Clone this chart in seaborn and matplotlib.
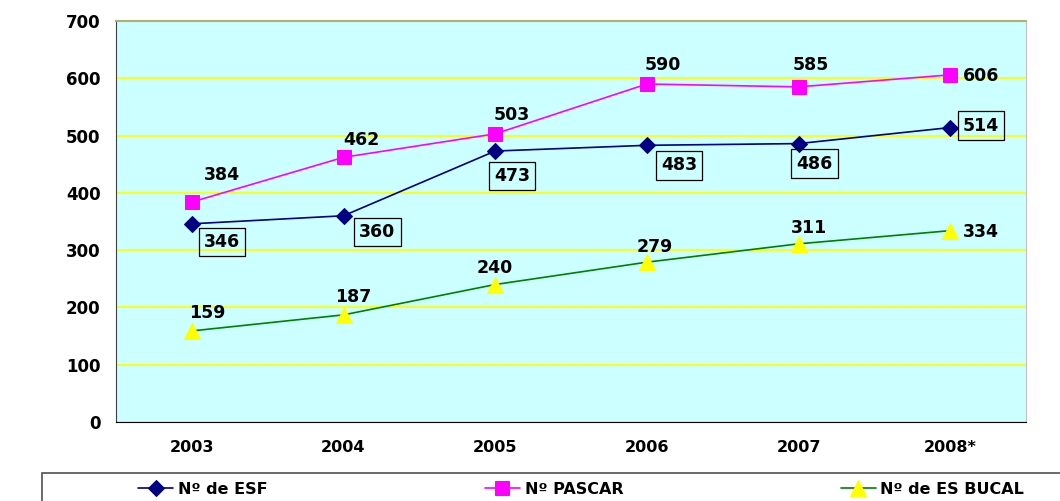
import numpy as np
import pandas as pd
import matplotlib
matplotlib.use('Agg')
import matplotlib.pyplot as plt
from matplotlib.patches import Rectangle
import seaborn as sns

years = ['2003', '2004', '2005', '2006', '2007', '2008*']
esf = [346, 360, 473, 483, 486, 514]
pascar = [384, 462, 503, 590, 585, 606]
bucal = [159, 187, 240, 279, 311, 334]
series_names = ['Nº de ESF', 'Nº PASCAR', 'Nº de ES BUCAL']

# label offsets (pixels) for each point
esf_off = [(30, -18), (34, -16), (17, -25), (32, -20), (16, -20), (31, 2)]
pascar_off = [(30, 27), (18, 17), (17, 19), (16, 19), (12, 22), (31, -1)]
bucal_off = [(15, 18), (10, 18), (0, 17), (8, 15), (11, 16), (31, -1)]

sns.set_style('white')
plt.rcParams['font.family'] = ['DejaVu Sans']
plt.rcParams['text.color'] = 'black'
plt.rcParams['xtick.color'] = 'black'
plt.rcParams['ytick.color'] = 'black'

fig = plt.figure(figsize=(10.6, 5.01), dpi=100)
ax = fig.add_axes([116/1060, 1-422/501, 910/1060, 401/501])
ax.set_facecolor('#CCFFFF')

pos = np.arange(len(years))
df = pd.DataFrame({'pos': pos, 'esf': esf, 'pascar': pascar, 'bucal': bucal})

sns.lineplot(data=df, x='pos', y='esf', ax=ax, color='#000080', lw=1.2,
             marker='D', markersize=8, markerfacecolor='#000080',
             markeredgecolor='#000080', label=series_names[0], zorder=3)
sns.lineplot(data=df, x='pos', y='pascar', ax=ax, color='#FF00FF', lw=1.2,
             marker='s', markersize=10, markerfacecolor='#FF00FF',
             markeredgecolor='#FF00FF', label=series_names[1], zorder=3)
sns.lineplot(data=df, x='pos', y='bucal', ax=ax, color='#008000', lw=1.2,
             marker='^', markersize=11, markerfacecolor='#FFFF00',
             markeredgecolor='#FFFF00', label=series_names[2], zorder=3)

fs = 12.5
for i in range(len(years)):
    ax.annotate(str(esf[i]), (pos[i], esf[i]), xytext=esf_off[i],
                textcoords='offset pixels', ha='center', va='center',
                fontsize=fs, fontweight='bold', color='black', zorder=4,
                bbox=dict(boxstyle='square,pad=0.3', fc='none', ec='black', lw=0.9))
    ax.annotate(str(pascar[i]), (pos[i], pascar[i]), xytext=pascar_off[i],
                textcoords='offset pixels', ha='center', va='center',
                fontsize=fs, fontweight='bold', color='black', zorder=4)
    ax.annotate(str(bucal[i]), (pos[i], bucal[i]), xytext=bucal_off[i],
                textcoords='offset pixels', ha='center', va='center',
                fontsize=fs, fontweight='bold', color='black', zorder=4)

ax.set_xlim(-0.5, len(years) - 0.5)
ax.set_ylim(0, 700)
ax.set_yticks(range(0, 701, 100))
ax.set_yticklabels([str(v) for v in range(0, 701, 100)], fontsize=12, fontweight='bold')
ax.set_xticks(pos)
ax.set_xticklabels(years, fontsize=11.5, fontweight='bold')
ax.set_xticks(np.arange(-0.5, len(years)), minor=True)
ax.tick_params(axis='x', which='major', length=0, pad=13)
ax.tick_params(axis='x', which='minor', length=6, width=1, direction='out', color='black')
ax.tick_params(axis='y', length=5, width=1, direction='out', color='#404040', pad=6)
ax.set_xlabel('')
ax.set_ylabel('')

ax.grid(axis='y', color='#FFFF00', lw=1.3, zorder=1)
ax.set_axisbelow(True)
ax.spines['top'].set_color('#B0B070')
ax.spines['top'].set_linewidth(1.5)
ax.spines['right'].set_color('#C0C0C0')
ax.spines['left'].set_color('#404040')
ax.spines['bottom'].set_color('black')

# legend box runs off the right and bottom edges, like the original
fig.patches.append(Rectangle((42/1060, -0.05), 1.0, 0.05 + 1 - 473/501,
                             transform=fig.transFigure, fill=False,
                             ec='#505050', lw=1.2))

ax.get_legend().remove()
handles, labels = ax.get_legend_handles_labels()
leg = fig.legend(handles, labels, ncol=3, loc='center left',
                 bbox_to_anchor=(138/1060, 1 - 489/501),
                 frameon=False, prop={'weight': 'bold', 'size': 11.5},
                 handlelength=2.2, handletextpad=0.3, columnspacing=13.6,
                 borderaxespad=0, borderpad=0)

fig.savefig('out.png', dpi=100)
